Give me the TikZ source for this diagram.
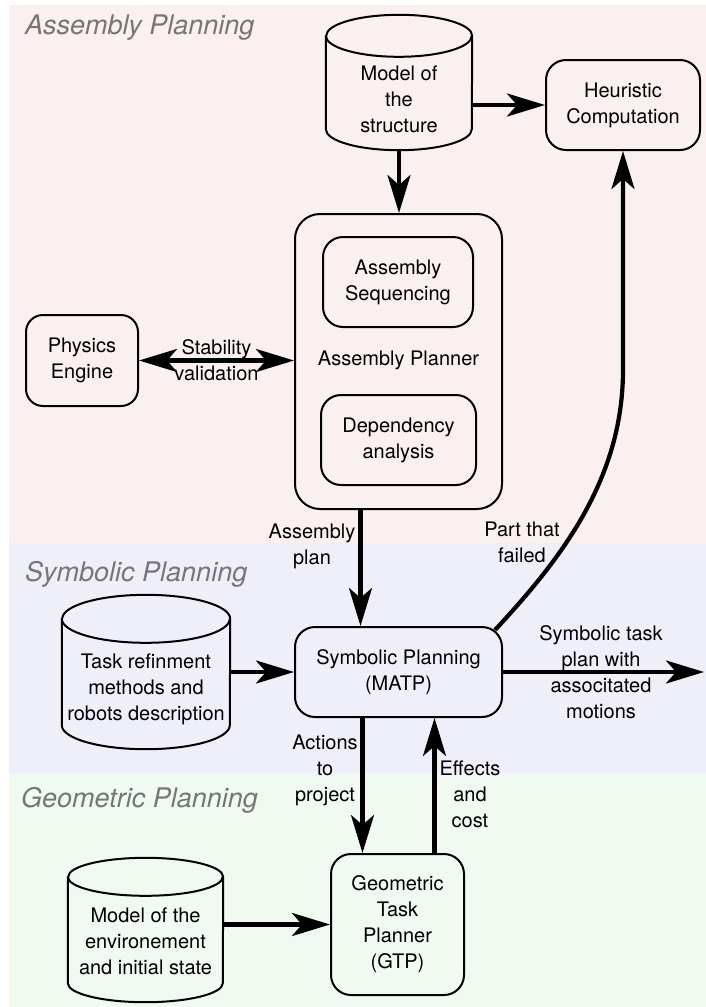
\documentclass[tikz,border=0pt]{standalone}
\usepackage{fontspec}
\setmainfont{TeX Gyre Heros}
\usetikzlibrary{arrows.meta,calc}
\definecolor{bgpink}{RGB}{250,240,240}
\definecolor{bgblue}{RGB}{239,239,250}
\definecolor{bggreen}{RGB}{240,250,240}
\definecolor{titlegray}{RGB}{118,118,118}
\newcommand\drawcyl[3]{%
  \draw[cylline] ($(#1.north west)+(0,#3)$) -- ($(#1.south west)+(0,-#3)$)
    arc[start angle=180,end angle=0,x radius=#2,y radius=#3]
    -- ($(#1.north east)+(0,#3)$)
    arc[start angle=0,end angle=-180,x radius=#2,y radius=#3] -- cycle;
  \draw[cylline] ($(#1.north west)+(0,#3)$)
    arc[start angle=180,end angle=0,x radius=#2,y radius=#3];
}
\begin{document}
\begin{tikzpicture}[x=1pt,y=-1pt,
  txt/.style={font=\fontsize{20}{26}\selectfont, align=center, inner sep=0pt},
  box/.style={draw, line width=2pt, rounded corners=20pt, inner sep=0pt, align=center, font=\fontsize{20}{26}\selectfont},
  cyl/.style={draw=none, inner sep=0pt},
  cylline/.style={line width=2pt, line join=round},
  arr/.style={line width=4.2pt, -{Stealth[length=38pt,width=23pt,inset=10pt]}},
  dblarr/.style={line width=4.2pt, {Stealth[length=38pt,width=23pt,inset=10pt]}-{Stealth[length=38pt,width=23pt,inset=10pt]}},
  title/.style={font=\fontsize{27}{31}\selectfont\itshape, text=titlegray, anchor=base west, inner sep=0pt}]

\useasboundingbox (0,0) rectangle (706,1007);
\fill[white] (0,0) rectangle (706,1007);
\fill[bgpink] (9,5) rectangle (706,543);
\fill[bgblue] (9,543) rectangle (706,773);
\fill[bggreen] (9,773) rectangle (706,1007);

% section titles
\node[title] (t1) at (25,34.5) {Assembly Planning};
\node[title] (t2) at (25,581) {Symbolic Planning};
\node[title] (t3) at (21,807) {Geometric Planning};

% Assembly planning
\node[cyl, minimum width=146pt, minimum height=135pt] (ms) at (399,82.5) {};
\drawcyl{ms}{73}{21}
\node[txt] (mst) at (399,99.5) {Model of\\the\\structure};

\node[box, minimum width=154pt, minimum height=90pt] (hc) at (623,105) {Heuristic\\Computation};

\node[box, rounded corners=25pt, minimum width=207pt, minimum height=295pt] (ap) at (398.5,361.5) {};
\node[box, minimum width=150pt, minimum height=90pt] (as) at (398,282) {Assembly\\Sequencing};
\node[box, minimum width=155pt, minimum height=90pt] (da) at (398.5,440) {Dependency\\analysis};
\node[txt] (apl) at (398.5,360) {Assembly Planner};

\node[box, rounded corners=17pt, minimum width=112pt, minimum height=91pt] (pe) at (82,360.5) {Physics\\Engine};

% Symbolic planning
\node[box, minimum width=207pt, minimum height=90pt] (sp) at (398.5,672) {Symbolic Planning\\(MATP)};
\node[cyl, minimum width=168pt, minimum height=154pt] (tc) at (146,672) {};
\drawcyl{tc}{84}{24}
\node[txt] (tct) at (146,689) {Task refinment\\methods and\\robots description};
\coordinate (out) at (704,672);

% Geometric planning
\node[box, minimum width=133pt, minimum height=141pt] (gtp) at (397.5,924.5) {Geometric\\Task\\Planner\\(GTP)};
\node[cyl, minimum width=155pt, minimum height=144pt] (ec) at (145.5,930) {};
\drawcyl{ec}{77.5}{19}
\node[txt] (ect) at (145.5,941.5) {Model of the\\environement\\and initial state};

% connectors
\draw[arr] (ms.south) -- (ms.south |- ap.north);
\draw[arr] (ms.east |- hc.west) -- (hc.west);
\draw[dblarr] (pe.east) -- (pe.east -| ap.west) node[midway, txt] {Stability\\validation};
\draw[arr] ([xshift=-38pt]ap.south) -- ([xshift=-38pt]ap.south |- sp.north);
\coordinate (pfs) at ($(sp.north east)+(-8,4)$);
\draw[arr] (pfs) .. controls (560,560) and (623,480) .. (623,370) -- (hc.south);
\draw[arr] (tc.east |- sp.west) -- (sp.west);
\draw[arr] (sp.east) -- (out);
\draw[arr] ([xshift=-36pt]sp.south) -- ([xshift=-36pt]sp.south |- gtp.north);
\draw[arr] ([xshift=37pt]gtp.north) -- ([xshift=37pt]gtp.north |- sp.south);
\draw[arr] (ec.east |- gtp.west) -- (gtp.west);

% labels
\node[txt] (lap) at (312,546) {Assembly\\plan};
\node[txt] (lpf) at (522,542) {Part that\\failed};
\node[txt] (lst) at (601,672) {Symbolic task\\plan with\\associtated\\motions};
\node[txt] (lact) at (325,770) {Actions\\to\\project};
\node[txt] (leff) at (470,794.5) {Effects\\and\\cost};
\end{tikzpicture}
\end{document}
